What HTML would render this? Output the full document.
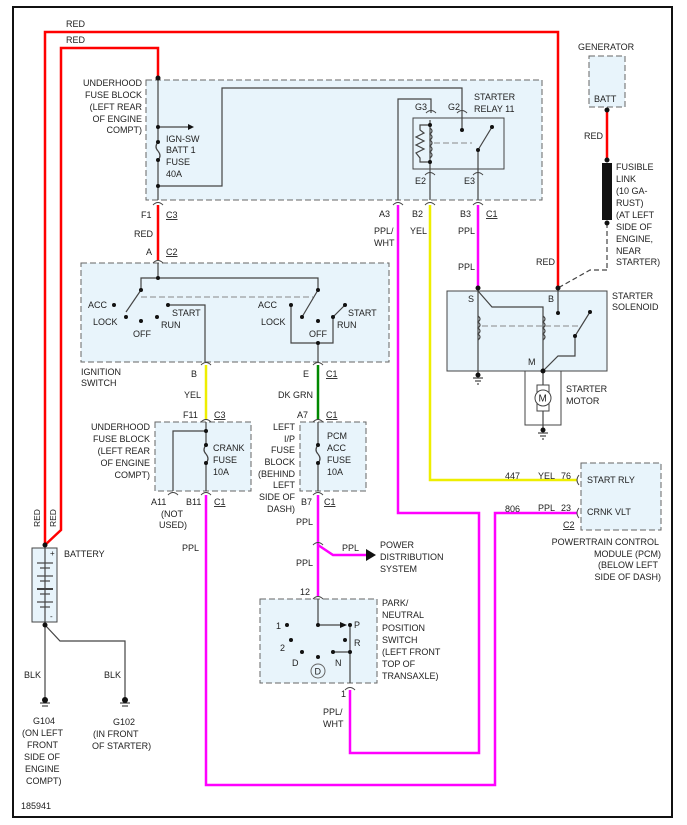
<!DOCTYPE html>
<html><head><meta charset="utf-8"><style>
body{margin:0;background:#fff}
svg{display:block}
text{font-family:"Liberation Sans",sans-serif;font-size:9px;fill:#222}
.r{text-anchor:end}
.bx{fill:#e8f4fb;stroke:#666;stroke-width:1;stroke-dasharray:6,3}
.w{fill:none;stroke:#444;stroke-width:1.2}
.d{fill:#111}
.c{fill:none;stroke:#444;stroke-width:1}
</style></head><body>
<svg width="687" height="825" viewBox="0 0 687 825">
<rect x="13" y="7" width="659" height="810" fill="#fff" stroke="#111" stroke-width="2"/>
<rect class="bx" x="146" y="80" width="396" height="120"/>
<rect x="413" y="118" width="91" height="51" fill="#e8f4fb" stroke="#444"/>
<rect class="bx" x="589" y="56" width="36" height="51"/>
<rect class="bx" x="81" y="263" width="308" height="99"/>
<rect class="bx" x="155" y="422" width="96" height="69"/>
<rect class="bx" x="300" y="422" width="66" height="69"/>
<rect class="bx" x="260" y="599" width="117" height="84"/>
<rect class="bx" x="581" y="463" width="80" height="67"/>
<rect x="447" y="291" width="160" height="80" fill="#e8f4fb" stroke="#444"/>
<rect x="525" y="371" width="36" height="54" fill="#fff" stroke="#444"/>
<rect x="32" y="548" width="25" height="74" fill="#e8f4fb" stroke="#444"/>
<polyline points="45,545 45,32 558,32 558,288" fill="none" stroke="#f00" stroke-width="2.5"/>
<polyline points="45,545 61,530 61,48 158,48 158,78" fill="none" stroke="#f00" stroke-width="2.5"/>
<line x1="158" y1="205" x2="158" y2="260" stroke="#f00" stroke-width="2.5"/>
<line x1="607" y1="110" x2="607" y2="160" stroke="#f00" stroke-width="2.5"/>
<line x1="206" y1="365" x2="206" y2="420" stroke="#ee0" stroke-width="2.5"/>
<polyline points="430,205 430,480 577,480" fill="none" stroke="#ee0" stroke-width="2.5"/>
<line x1="318" y1="365" x2="318" y2="420" stroke="#080" stroke-width="2.5"/>
<g fill="none" stroke="#f0f" stroke-width="2.5">
<line x1="478" y1="205" x2="478" y2="288"/>
<polyline points="398,205 398,513 479,513 479,753 350,753 350,690"/>
<polyline points="206,495 206,785 495,785 495,513 577,513"/>
<line x1="318" y1="495" x2="318" y2="596"/>
<polyline points="318,545 333,555 367,555"/>
</g>
<polygon points="366,549 376,555 366,561" class="d"/>
<g class="w">
<line x1="158" y1="80" x2="158" y2="140"/><path d="M158,142 q-4,5 0,9 q4,5 0,9"/><line x1="158" y1="160" x2="158" y2="200"/>
<line x1="158" y1="127" x2="188" y2="127"/>
<polyline points="158,186 222,186 222,88 462,88 462,118"/>
<polyline points="398,200 398,99 431,99 431,113"/>
<line x1="430" y1="120" x2="430" y2="200"/><line x1="478" y1="150" x2="478" y2="200"/>
<line x1="478" y1="150" x2="492" y2="127"/><line x1="462" y1="118" x2="462" y2="130"/>
<path d="M430,128 q4,3 0,6 q4,3 0,6 q4,3 0,6 q4,3 0,6 q4,3 0,6"/>
<polyline points="430,125 420,125 420,130 424,133 416,137 424,141 416,145 424,149 416,153 420,158 420,162 430,162"/>
</g>
<polygon points="188,124 194,127 188,130" class="d"/>
<line x1="434" y1="143" x2="472" y2="143" stroke="#888" stroke-dasharray="6,3"/>
<g class="d"><circle cx="158" cy="78" r="2.5"/><circle cx="158" cy="127" r="2"/><circle cx="158" cy="142" r="2"/><circle cx="158" cy="160" r="2"/><circle cx="158" cy="186" r="2"/>
<circle cx="430" cy="125" r="2"/><circle cx="430" cy="162" r="2"/><circle cx="462" cy="130" r="2"/><circle cx="492" cy="127" r="2"/><circle cx="478" cy="150" r="2"/></g>
<g class="c">
<path d="M153,205 q5,-5 10,0"/><path d="M153,263 q5,-5 10,0"/>
<path d="M393,205 q5,-5 10,0"/><path d="M425,205 q5,-5 10,0"/><path d="M473,205 q5,-5 10,0"/>
<path d="M426,113 q5,-5 10,0"/><path d="M457,113 q5,-5 10,0"/><path d="M425,175 q5,-5 10,0"/><path d="M473,175 q5,-5 10,0"/>
<path d="M201,365 q5,-5 10,0"/><path d="M313,365 q5,-5 10,0"/>
<path d="M201,422 q5,-5 10,0"/><path d="M313,422 q5,-5 10,0"/>
<path d="M168,495 q5,-5 10,0"/><path d="M201,495 q5,-5 10,0"/><path d="M313,495 q5,-5 10,0"/>
<path d="M313,545 q5,-5 10,0"/><path d="M313,599 q5,-5 10,0"/><path d="M345,690 q5,-5 10,0"/>
<path d="M579,475 q-4,5 0,10"/><path d="M579,508 q-4,5 0,10"/>
</g>
<g class="w">
<line x1="158" y1="263" x2="158" y2="278"/><polyline points="141,290 141,278 318,278 318,290"/>
<line x1="141" y1="290" x2="126" y2="312"/><line x1="318" y1="290" x2="302" y2="317"/>
<polyline points="168,305 205,305 205,362"/>
<polyline points="291,305 291,343 333,343 333,317 345,305"/><line x1="318" y1="343" x2="318" y2="362"/>
</g>
<line x1="141" y1="297" x2="313" y2="297" stroke="#888" stroke-dasharray="6,3"/>
<g class="d"><circle cx="158" cy="278" r="2"/><circle cx="141" cy="290" r="2"/><circle cx="318" cy="290" r="2"/>
<circle cx="114" cy="305" r="2"/><circle cx="126" cy="317" r="2"/><circle cx="141" cy="321" r="2"/><circle cx="157" cy="317" r="2"/><circle cx="168" cy="305" r="2"/>
<circle cx="291" cy="305" r="2"/><circle cx="302" cy="317" r="2"/><circle cx="318" cy="321" r="2"/><circle cx="333" cy="317" r="2"/><circle cx="345" cy="305" r="2"/><circle cx="318" cy="343" r="2"/></g>
<g class="w">
<line x1="206" y1="422" x2="206" y2="445"/><path d="M206,445 q-4,5 0,9 q4,5 0,9"/><line x1="206" y1="463" x2="206" y2="491"/>
<polyline points="206,431 173,431 173,491"/>
<line x1="318" y1="422" x2="318" y2="445"/><path d="M318,445 q-4,5 0,9 q4,5 0,9"/><line x1="318" y1="463" x2="318" y2="491"/>
</g>
<g class="d"><circle cx="206" cy="431" r="2"/><circle cx="206" cy="445" r="2"/><circle cx="206" cy="463" r="2"/><circle cx="318" cy="445" r="2"/><circle cx="318" cy="463" r="2"/></g>
<g class="w"><polyline points="318,599 318,625 345,625"/><line x1="350" y1="625" x2="350" y2="683"/><line x1="333" y1="652" x2="350" y2="652"/></g>
<polygon points="340,622 347,625 340,628" class="d"/>
<g class="d"><circle cx="318" cy="625" r="2"/><circle cx="350" cy="625" r="2"/><circle cx="345" cy="640" r="2"/><circle cx="350" cy="652" r="2"/><circle cx="333" cy="652" r="2"/>
<circle cx="287" cy="625" r="2"/><circle cx="291" cy="640" r="2"/><circle cx="302" cy="652" r="2"/><circle cx="318" cy="657" r="2"/></g>
<circle cx="318" cy="671" r="7" fill="none" stroke="#666"/><text x="314.5" y="674.5">D</text>
<g class="w">
<line x1="478" y1="288" x2="478" y2="375"/><polyline points="478,291 492,307 543,307 543,371"/>
<line x1="558" y1="288" x2="558" y2="313"/><polyline points="543,371 558,356 575,356 575,336 590,312"/>
<line x1="543" y1="371" x2="543" y2="430"/>
<line x1="607" y1="223" x2="607" y2="270" stroke-dasharray="5,3"/><polyline points="607,270 590,270 558,288" stroke-dasharray="5,3"/>
<path d="M478,316 q4,3 0,6 q4,3 0,6 q4,3 0,6 q4,3 0,6"/><path d="M543,316 q4,3 0,6 q4,3 0,6 q4,3 0,6 q4,3 0,6"/>
</g>
<line x1="482" y1="326" x2="580" y2="326" stroke="#888" stroke-dasharray="6,3"/>
<g class="d"><circle cx="478" cy="288" r="2.5"/><circle cx="558" cy="288" r="2.5"/><circle cx="558" cy="313" r="2"/><circle cx="590" cy="312" r="2"/><circle cx="575" cy="336" r="2"/><circle cx="543" cy="371" r="2.5"/>
<circle cx="607" cy="110" r="2.5"/><circle cx="607" cy="160" r="2.5"/><circle cx="607" cy="223" r="2.5"/></g>
<rect x="602" y="163" width="10" height="57" fill="#111"/>
<rect x="537" y="385" width="12" height="26" fill="#fff" stroke="#444"/>
<circle cx="543" cy="398" r="8" fill="#fff" stroke="#444"/><text x="538.5" y="401.5" style="font-size:10px">M</text>
<g class="w">
<line x1="473" y1="378" x2="483" y2="378"/><line x1="475" y1="381" x2="481" y2="381"/><line x1="477" y1="384" x2="479" y2="384"/>
<line x1="538" y1="433" x2="548" y2="433"/><line x1="540" y1="436" x2="546" y2="436"/><line x1="542" y1="439" x2="544" y2="439"/>
</g>
<circle cx="478" cy="375" r="2.5" class="d"/><circle cx="543" cy="430" r="2.5" class="d"/>
<g class="w"><line x1="45" y1="548" x2="45" y2="622"/>
<line x1="37" y1="563" x2="53" y2="563"/><line x1="40" y1="568" x2="50" y2="568"/><line x1="37" y1="576" x2="53" y2="576"/><line x1="40" y1="581" x2="50" y2="581"/><line x1="37" y1="589" x2="53" y2="589" stroke-width="2"/><line x1="40" y1="594" x2="50" y2="594"/><line x1="37" y1="602" x2="53" y2="602"/><line x1="40" y1="607" x2="50" y2="607"/>
<polyline points="45,625 45,698"/><polyline points="45,625 60,641 125,641 125,698"/>
<line x1="40" y1="703" x2="50" y2="703"/><line x1="42" y1="706" x2="48" y2="706"/><line x1="120" y1="703" x2="130" y2="703"/><line x1="122" y1="706" x2="128" y2="706"/></g>
<circle cx="45" cy="545" r="2.5" class="d"/><circle cx="45" cy="625" r="2.5" class="d"/><circle cx="45" cy="700" r="3" class="d"/><circle cx="125" cy="700" r="3" class="d"/>
<text x="50" y="556" style="font-size:8px">+</text><text x="50" y="619" style="font-size:8px">-</text>
<text x="66" y="27">RED</text><text x="66" y="43">RED</text>
<text x="40" y="527" transform="rotate(-90 40 527)" style="font-size:8.5px">RED</text>
<text x="56" y="527" transform="rotate(-90 56 527)" style="font-size:8.5px">RED</text>
<text class="r" x="142" y="86">UNDERHOOD</text><text class="r" x="142" y="98">FUSE BLOCK</text><text class="r" x="142" y="110">(LEFT REAR</text><text class="r" x="142" y="122">OF ENGINE</text><text class="r" x="142" y="133">COMPT)</text>
<text x="166" y="142">IGN-SW</text><text x="166" y="153">BATT 1</text><text x="166" y="165">FUSE</text><text x="166" y="177">40A</text>
<text x="141" y="218">F1</text><text x="166" y="218" text-decoration="underline">C3</text><text x="134" y="237">RED</text>
<text x="146" y="255">A</text><text x="166" y="255" text-decoration="underline">C2</text>
<text x="415" y="110">G3</text><text x="448" y="110">G2</text><text x="474" y="100">STARTER</text><text x="474" y="112">RELAY 11</text>
<text x="415" y="184">E2</text><text x="464" y="184">E3</text>
<text x="379" y="217">A3</text><text x="412" y="217">B2</text><text x="460" y="217">B3</text><text x="486" y="217" text-decoration="underline">C1</text>
<text x="374" y="234">PPL/</text><text x="374" y="246">WHT</text><text x="410" y="234">YEL</text><text x="458" y="234">PPL</text><text x="458" y="270">PPL</text>
<text x="578" y="50">GENERATOR</text><text x="594" y="102">BATT</text><text x="584" y="139">RED</text>
<text x="616" y="170">FUSIBLE</text><text x="616" y="182">LINK</text><text x="616" y="194">(10 GA-</text><text x="616" y="206">RUST)</text><text x="616" y="218">(AT LEFT</text><text x="616" y="230">SIDE OF</text><text x="616" y="242">ENGINE,</text><text x="616" y="254">NEAR</text><text x="616" y="265">STARTER)</text>
<text x="536" y="265">RED</text><text x="468" y="302">S</text><text x="548" y="302">B</text><text x="528" y="365">M</text>
<text x="612" y="299">STARTER</text><text x="612" y="310">SOLENOID</text><text x="566" y="392">STARTER</text><text x="566" y="404">MOTOR</text>
<text x="88" y="308">ACC</text><text x="93" y="325">LOCK</text><text x="133" y="337">OFF</text><text x="161" y="328">RUN</text><text x="172" y="316">START</text>
<text x="258" y="308">ACC</text><text x="261" y="325">LOCK</text><text x="309" y="337">OFF</text><text x="337" y="328">RUN</text><text x="348" y="316">START</text>
<text x="81" y="375">IGNITION</text><text x="81" y="386">SWITCH</text>
<text x="191" y="377">B</text><text x="303" y="377">E</text><text x="326" y="377" text-decoration="underline">C1</text>
<text x="184" y="398">YEL</text><text x="278" y="398">DK GRN</text>
<text x="183" y="418">F11</text><text x="214" y="418" text-decoration="underline">C3</text><text x="297" y="418">A7</text><text x="326" y="418" text-decoration="underline">C1</text>
<text class="r" x="150" y="430">UNDERHOOD</text><text class="r" x="150" y="442">FUSE BLOCK</text><text class="r" x="150" y="454">(LEFT REAR</text><text class="r" x="150" y="466">OF ENGINE</text><text class="r" x="150" y="478">COMPT)</text>
<text x="213" y="451">CRANK</text><text x="213" y="463">FUSE</text><text x="213" y="475">10A</text>
<text class="r" x="295" y="430">LEFT</text><text class="r" x="295" y="442">I/P</text><text class="r" x="295" y="453">FUSE</text><text class="r" x="295" y="465">BLOCK</text><text class="r" x="295" y="477">(BEHIND</text><text class="r" x="295" y="488">LEFT</text><text class="r" x="295" y="500">SIDE OF</text><text class="r" x="295" y="512">DASH)</text>
<text x="327" y="439">PCM</text><text x="327" y="451">ACC</text><text x="327" y="463">FUSE</text><text x="327" y="475">10A</text>
<text x="151" y="505">A11</text><text x="186" y="505">B11</text><text x="214" y="505" text-decoration="underline">C1</text><text x="301" y="505">B7</text><text x="324" y="505" text-decoration="underline">C1</text>
<text x="161" y="517">(NOT</text><text x="159" y="528">USED)</text>
<text x="182" y="551">PPL</text><text x="296" y="525">PPL</text><text x="296" y="566">PPL</text><text x="342" y="551">PPL</text>
<text x="380" y="548">POWER</text><text x="380" y="560">DISTRIBUTION</text><text x="380" y="572">SYSTEM</text>
<text x="300" y="595">12</text>
<text x="382" y="606">PARK/</text><text x="382" y="618">NEUTRAL</text><text x="382" y="631">POSITION</text><text x="382" y="643">SWITCH</text><text x="382" y="655">(LEFT FRONT</text><text x="382" y="667">TOP OF</text><text x="382" y="679">TRANSAXLE)</text>
<text x="276" y="629">1</text><text x="280" y="651">2</text><text x="292" y="666">D</text><text x="354" y="628">P</text><text x="354" y="646">R</text><text x="335" y="666">N</text>
<text x="341" y="697">1</text><text x="323" y="715">PPL/</text><text x="323" y="727">WHT</text>
<text x="505" y="479">447</text><text x="538" y="479">YEL</text><text x="561" y="479">76</text>
<text x="505" y="512">806</text><text x="538" y="511">PPL</text><text x="561" y="511">23</text>
<text x="587" y="483">START RLY</text><text x="587" y="515">CRNK VLT</text><text x="563" y="528" text-decoration="underline">C2</text>
<text class="r" x="659" y="545">POWERTRAIN CONTROL</text><text class="r" x="661" y="557">MODULE (PCM)</text><text class="r" x="658" y="568">(BELOW LEFT</text><text class="r" x="661" y="580">SIDE OF DASH)</text>
<text x="64" y="557">BATTERY</text>
<text x="24" y="678">BLK</text><text x="104" y="678">BLK</text>
<text x="33" y="724">G104</text><text x="22" y="736">(ON LEFT</text><text x="27" y="748">FRONT</text><text x="24" y="760">SIDE OF</text><text x="25" y="772">ENGINE</text><text x="26" y="784">COMPT)</text>
<text x="113" y="725">G102</text><text x="93" y="737">(IN FRONT</text><text x="92" y="749">OF STARTER)</text>
<text x="21" y="809">185941</text>
</svg>
</body></html>
